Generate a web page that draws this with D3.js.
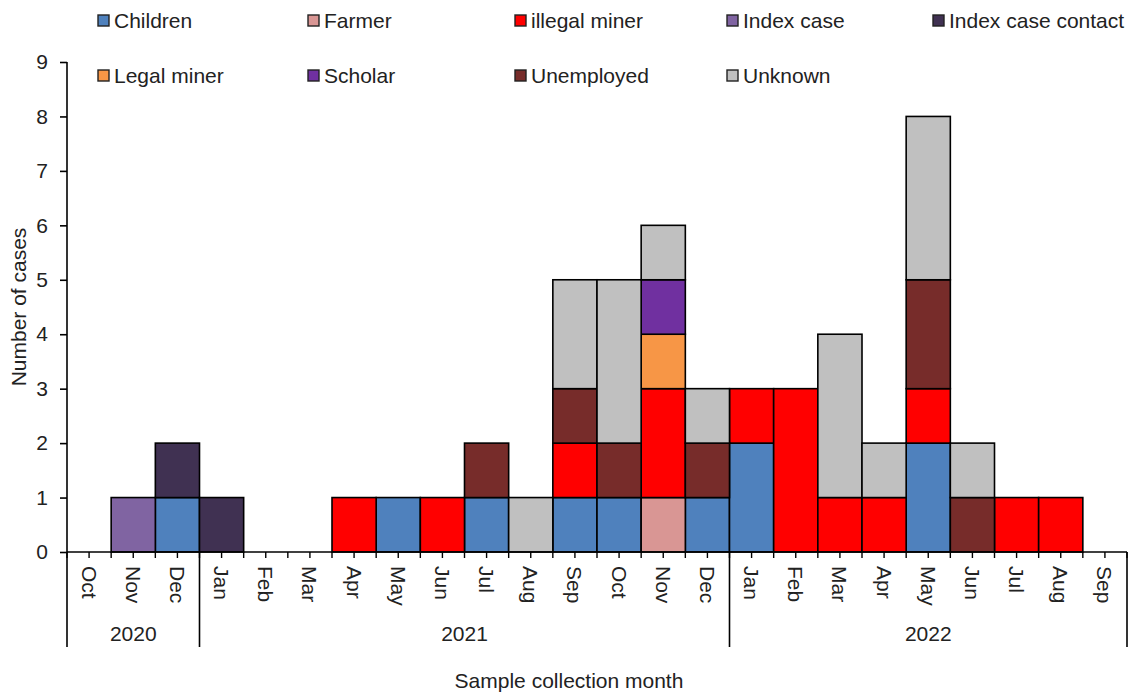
<!DOCTYPE html>
<html>
<head>
<meta charset="utf-8">
<script src="https://cdn.jsdelivr.net/npm/d3@7"></script>
<style>
  html, body { margin: 0; padding: 0; background: #fff; }
  svg { display: block; font-family: "Liberation Sans", Arial, sans-serif; }
</style>
</head>
<body>
<svg id="chart" width="1134" height="694"></svg>
<script>
// ---- Data ----
const months = ["Oct","Nov","Dec","Jan","Feb","Mar","Apr","May","Jun","Jul","Aug","Sep",
                "Oct","Nov","Dec","Jan","Feb","Mar","Apr","May","Jun","Jul","Aug","Sep"];
const years = ["2020", "2021", "2022"];
const yearSpans = [[0, 3], [3, 15], [15, 24]];
const categories = ["Children","Farmer","illegal miner","Index case","Index case contact",
                    "Legal miner","Scholar","Unemployed","Unknown"];
const children        = [0,0,1,0,0,0,0,1,0,1,0,1,1,0,1,2,0,0,0,2,0,0,0,0];
const farmer          = [0,0,0,0,0,0,0,0,0,0,0,0,0,1,0,0,0,0,0,0,0,0,0,0];
const illegalMiner    = [0,0,0,0,0,0,1,0,1,0,0,1,0,2,0,1,3,1,1,1,0,1,1,0];
const indexCase       = [0,1,0,0,0,0,0,0,0,0,0,0,0,0,0,0,0,0,0,0,0,0,0,0];
const indexContact    = [0,0,1,1,0,0,0,0,0,0,0,0,0,0,0,0,0,0,0,0,0,0,0,0];
const legalMiner      = [0,0,0,0,0,0,0,0,0,0,0,0,0,1,0,0,0,0,0,0,0,0,0,0];
const scholar         = [0,0,0,0,0,0,0,0,0,0,0,0,0,1,0,0,0,0,0,0,0,0,0,0];
const unemployed      = [0,0,0,0,0,0,0,0,0,1,0,1,1,0,1,0,0,0,0,2,1,0,0,0];
const unknown         = [0,0,0,0,0,0,0,0,0,0,1,2,3,1,1,0,0,3,1,3,1,0,0,0];
const seriesValues = [children, farmer, illegalMiner, indexCase, indexContact,
                      legalMiner, scholar, unemployed, unknown];
const colors = ["#4F81BD","#D99694","#FF0000","#8064A2","#403152",
                "#F79646","#7030A0","#772C2A","#C0C0C0"];
const yTicks = [0,1,2,3,4,5,6,7,8,9];

// ---- Build table ----
const table = months.map((m, i) => {
  const row = { idx: i, month: m };
  categories.forEach((c, k) => row[c] = seriesValues[k][i]);
  return row;
});

const svg = d3.select("#chart");
const margin = { left: 67, right: 1127, top: 62, bottom: 552 };
const FONT = 21;

const x = d3.scaleBand().domain(d3.range(months.length)).range([margin.left, margin.right]).padding(0);
const y = d3.scaleLinear().domain([0, 9]).range([margin.bottom, margin.top]);
const color = d3.scaleOrdinal().domain(categories).range(colors);

const stacked = d3.stack().keys(categories)(table);

// Bars
const layers = svg.append("g").selectAll("g").data(stacked).join("g")
  .attr("fill", d => color(d.key));
layers.selectAll("rect")
  .data(d => d.filter(s => s[1] - s[0] > 0))
  .join("rect")
  .attr("x", d => x(d.data.idx))
  .attr("width", x.bandwidth())
  .attr("y", d => y(d[1]))
  .attr("height", d => y(d[0]) - y(d[1]))
  .attr("stroke", "#000")
  .attr("stroke-width", 1.6);

// Y axis
const yAxis = svg.append("g")
  .attr("transform", `translate(${margin.left},0)`)
  .call(d3.axisLeft(y).tickValues(yTicks).tickFormat(d3.format("d")).tickSize(7).tickPadding(12));
yAxis.select(".domain").attr("stroke", "#000").attr("stroke-width", 1.6).attr("d", `M0,${margin.top}V${margin.bottom}`);
yAxis.selectAll(".tick line").attr("stroke", "#000").attr("stroke-width", 1.6);
yAxis.selectAll(".tick text").attr("font-size", FONT).attr("fill", "#222")
  .attr("font-family", "Liberation Sans, Arial, sans-serif");

// X axis line
const xg = svg.append("g");
xg.append("line")
  .attr("x1", margin.left).attr("x2", margin.right)
  .attr("y1", margin.bottom).attr("y2", margin.bottom)
  .attr("stroke", "#000").attr("stroke-width", 1.6);

// Half-band ticks
const tickPos = [];
months.forEach((m, i) => {
  tickPos.push(x(i));
  tickPos.push(x(i) + x.bandwidth() / 2);
});
tickPos.push(margin.right);
xg.selectAll("line.tk").data(tickPos).join("line").attr("class", "tk")
  .attr("x1", d => d).attr("x2", d => d)
  .attr("y1", margin.bottom).attr("y2", margin.bottom + 6)
  .attr("stroke", "#000").attr("stroke-width", 1.4);

// Month labels (rotated, reading top to bottom)
xg.selectAll("text.mo").data(months).join("text").attr("class", "mo")
  .attr("transform", (d, i) => `translate(${x(i) + x.bandwidth() / 2},${margin.bottom + 14}) rotate(90)`)
  .attr("text-anchor", "start")
  .attr("dominant-baseline", "central")
  .attr("font-size", FONT).attr("fill", "#222")
  .text(d => d);

// Year separators
const sepPos = [margin.left].concat(yearSpans.map(s => x(s[1] - 1) + x.bandwidth()));
xg.selectAll("line.sep").data(sepPos).join("line").attr("class", "sep")
  .attr("x1", d => d).attr("x2", d => d)
  .attr("y1", margin.bottom).attr("y2", 647)
  .attr("stroke", "#000").attr("stroke-width", 1.6);

// Year labels
xg.selectAll("text.yr").data(years).join("text").attr("class", "yr")
  .attr("x", (d, i) => (x(yearSpans[i][0]) + x(yearSpans[i][1] - 1) + x.bandwidth()) / 2)
  .attr("y", 641)
  .attr("text-anchor", "middle")
  .attr("font-size", FONT).attr("fill", "#222")
  .text(d => d);

// Axis titles
svg.append("text")
  .attr("x", 569).attr("y", 688)
  .attr("text-anchor", "middle")
  .attr("font-size", FONT).attr("fill", "#222")
  .text("Sample collection month");
svg.append("text")
  .attr("transform", `translate(26,${(margin.top + margin.bottom) / 2}) rotate(-90)`)
  .attr("text-anchor", "middle")
  .attr("font-size", FONT).attr("fill", "#222")
  .text("Number of cases");

// Legend
const legendCols = [98, 308, 515, 727, 933];
const legendRows = [28, 83];
const legend = svg.append("g").selectAll("g").data(categories).join("g")
  .attr("transform", (d, i) => {
    const r = i < 5 ? 0 : 1;
    const c = i < 5 ? i : i - 5;
    return `translate(${legendCols[c]},${legendRows[r]})`;
  });
legend.append("rect")
  .attr("x", 0).attr("y", -13).attr("width", 11).attr("height", 11)
  .attr("fill", d => color(d))
  .attr("stroke", "#222").attr("stroke-width", 1.4);
legend.append("text")
  .attr("x", 16).attr("y", 0)
  .attr("font-size", FONT).attr("fill", "#222")
  .text(d => d);
</script>
</body>
</html>
